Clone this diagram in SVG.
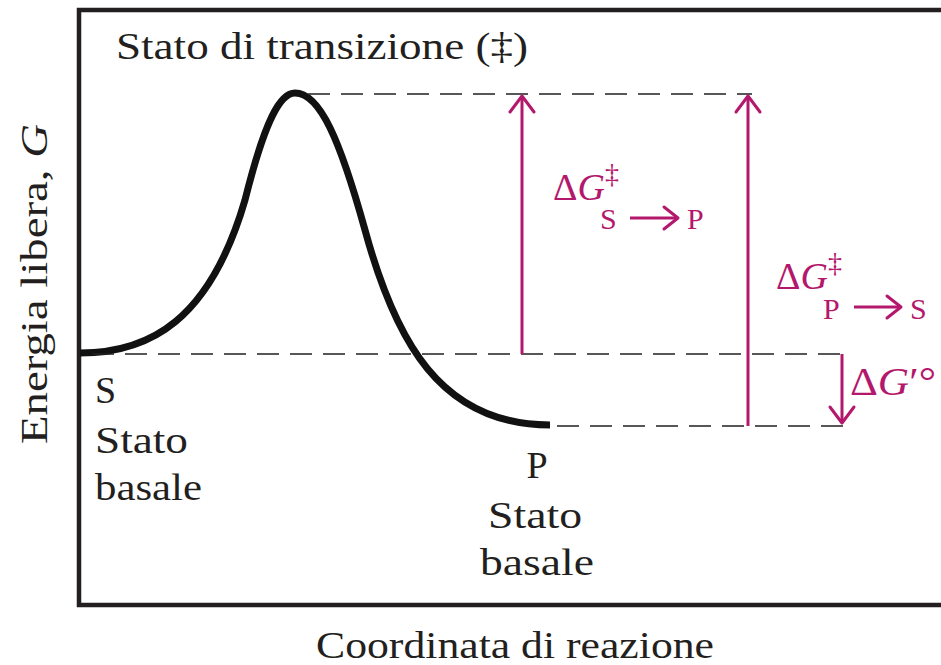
<svg xmlns="http://www.w3.org/2000/svg" width="941" height="665" viewBox="0 0 941 665">
<defs>
<style>
.t{font-family:"Liberation Serif","DejaVu Serif",serif;fill:#231f20;font-size:38px}
.m{font-family:"Liberation Serif","DejaVu Serif",serif;fill:#b3186c}
.dash{stroke:#231f20;stroke-width:1.6;stroke-dasharray:22 11;fill:none}
.arr{stroke:#b3186c;stroke-width:3;fill:none}
.head{stroke:#b3186c;stroke-width:3;fill:none;stroke-linecap:round;stroke-linejoin:round}
</style>
</defs>
<rect width="941" height="665" fill="#fff"/>
<g id="frame">
<polyline points="945,10 79,10 79,605 945,605" fill="none" stroke="#231f20" stroke-width="4.5"/>
</g>
<g id="curve">
<path d="M80,353 C150,353 210,320 245,200 C265,120 280,93 295,93 C320,93 340,140 365,230 C395,340 440,425 550,425" fill="none" stroke="#111" stroke-width="7"/>
</g>
<g id="connectors">
<line class="dash" x1="308" y1="94" x2="752" y2="94"/>
<line class="dash" x1="92" y1="354" x2="845" y2="354"/>
<line class="dash" x1="557" y1="426" x2="845" y2="426"/>
<line class="arr" x1="522" y1="354" x2="522" y2="96"/>
<polyline class="head" points="510,112 522,96 534,112"/>
<line class="arr" x1="748" y1="426" x2="748" y2="96"/>
<polyline class="head" points="736,112 748,96 760,112"/>
<line class="arr" x1="842" y1="354" x2="842" y2="423"/>
<polyline class="head" points="830,407 842,423 854,407"/>
</g>
<g id="labels">
<text class="t" x="116" y="59" textLength="412" lengthAdjust="spacingAndGlyphs">Stato di transizione (‡)</text>
<text class="t" transform="translate(47,284) rotate(-90)" text-anchor="middle" font-size="36" textLength="320" lengthAdjust="spacingAndGlyphs">Energia libera, <tspan font-style="italic">G</tspan></text>
<text class="t" x="316" y="658" textLength="398" lengthAdjust="spacingAndGlyphs">Coordinata di reazione</text>
</g>
<g id="S">
<text class="t" x="95" y="403">S</text>
<text class="t" x="95" y="453" textLength="93" lengthAdjust="spacingAndGlyphs">Stato</text>
<text class="t" x="95" y="500" textLength="107" lengthAdjust="spacingAndGlyphs">basale</text>
</g>
<g id="P">
<text class="t" x="537" y="478" text-anchor="middle">P</text>
<text class="t" x="488" y="528" textLength="94" lengthAdjust="spacingAndGlyphs">Stato</text>
<text class="t" x="480" y="575" textLength="114" lengthAdjust="spacingAndGlyphs">basale</text>
</g>
<g id="dGSP">
<text class="m" x="553" y="200" font-size="38">Δ<tspan font-style="italic">G</tspan></text>
<text class="m" x="605" y="183" font-size="28">‡</text>
<text class="m" x="600" y="229" font-size="30">S</text>
<line class="arr" x1="630" y1="218" x2="677" y2="218" stroke-width="3.5"/>
<polyline class="head" points="664,207 678,218 664,229" stroke-width="3.5"/>
<text class="m" x="687" y="229" font-size="30">P</text>
</g>
<g id="dGPS">
<text class="m" x="776" y="289" font-size="38">Δ<tspan font-style="italic">G</tspan></text>
<text class="m" x="828" y="272" font-size="28">‡</text>
<text class="m" x="823" y="319" font-size="30">P</text>
<line class="arr" x1="854" y1="307" x2="900" y2="307" stroke-width="3.5"/>
<polyline class="head" points="887,296 901,307 887,318" stroke-width="3.5"/>
<text class="m" x="910" y="319" font-size="30">S</text>
</g>
<g id="dG0">
<text class="m" x="850" y="395" font-size="39" textLength="86" lengthAdjust="spacingAndGlyphs">Δ<tspan font-style="italic">G</tspan>′°</text>
</g>
</svg>
